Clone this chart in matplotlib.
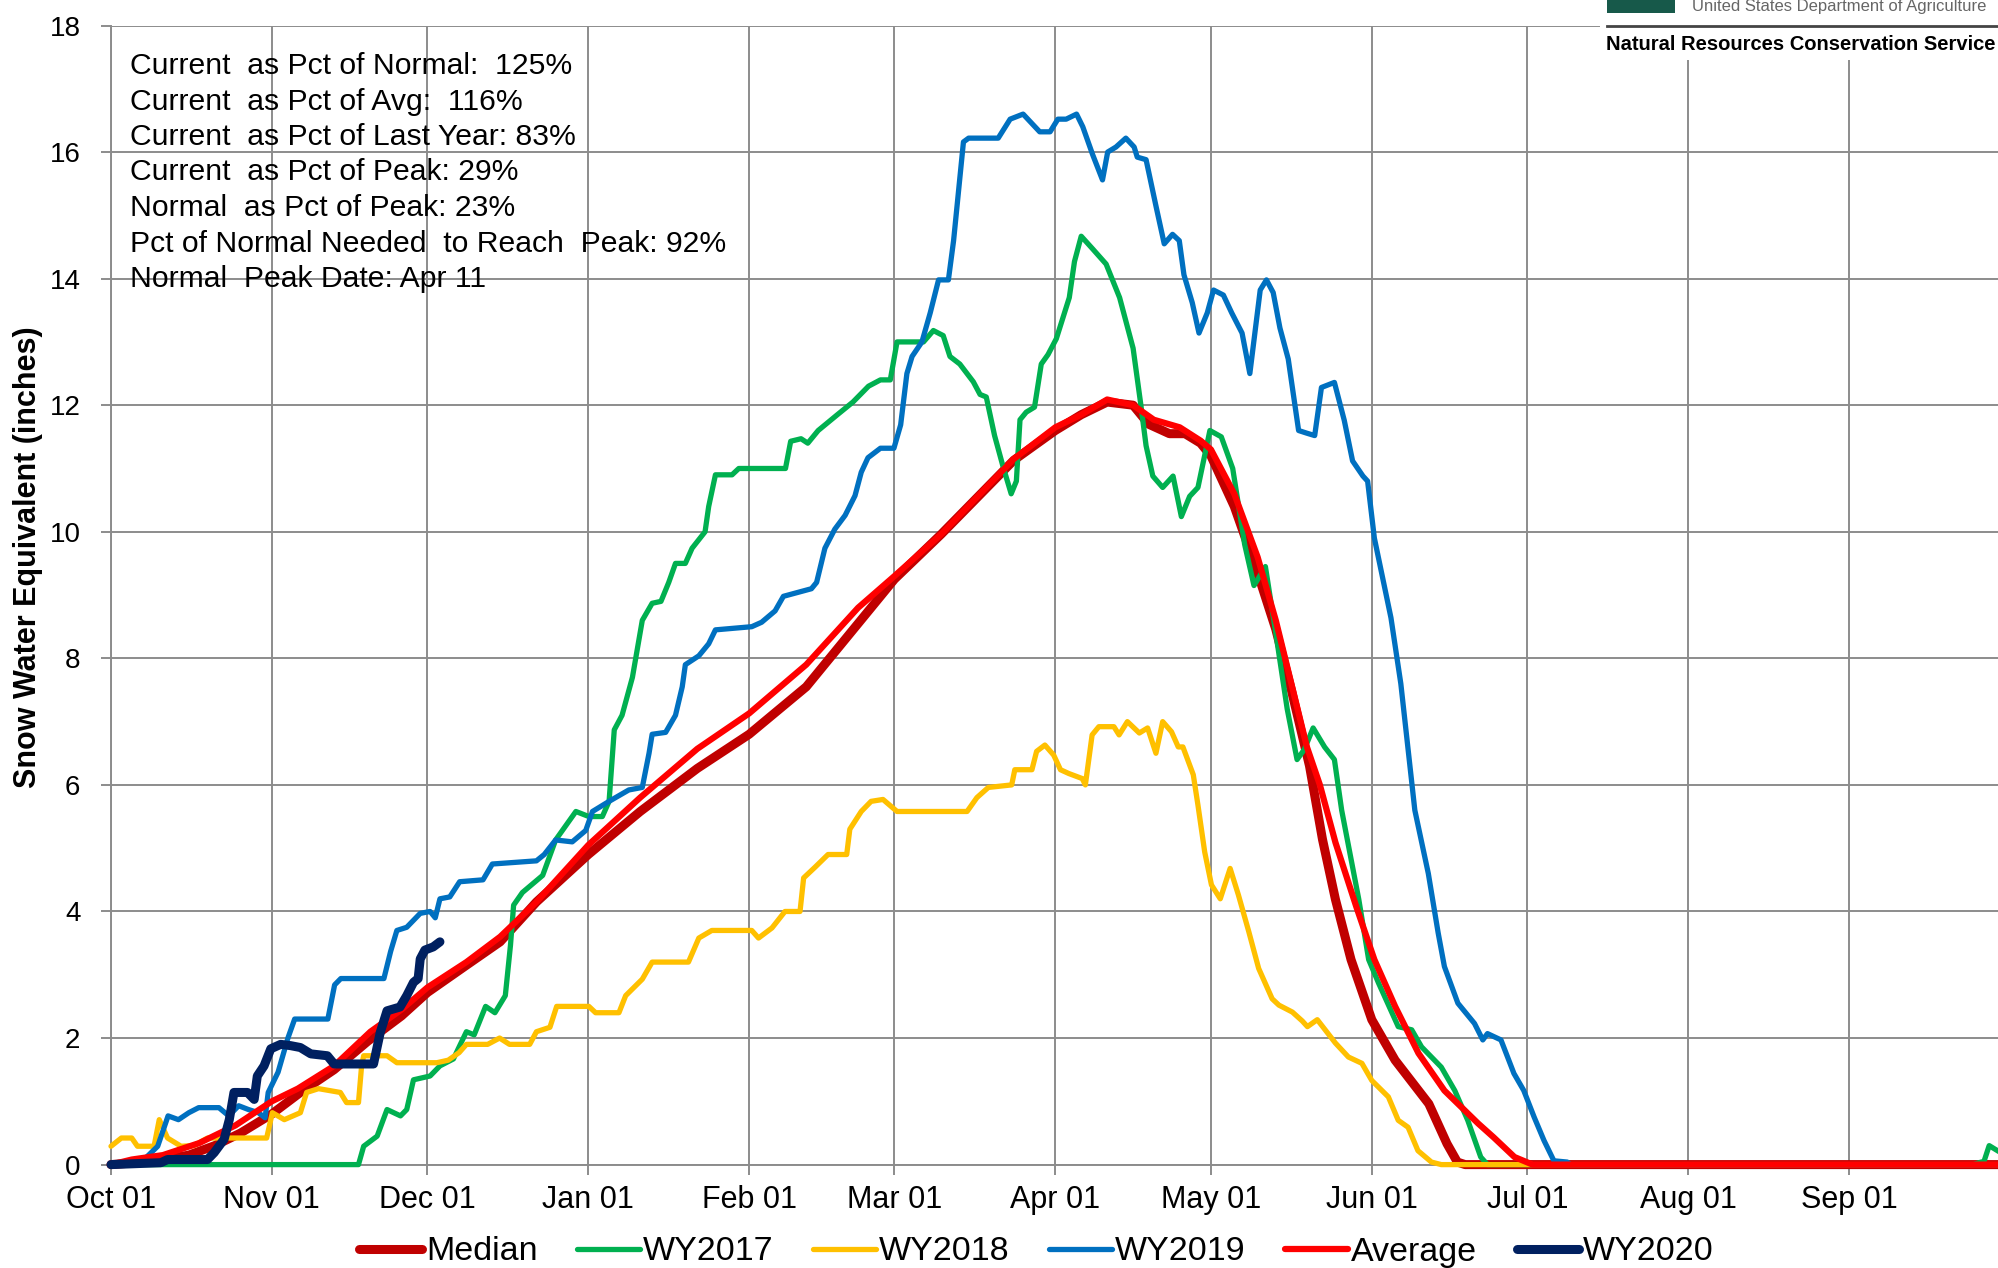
import numpy as np
import matplotlib
matplotlib.use("Agg")
import matplotlib.pyplot as plt
from matplotlib.patches import Rectangle
from matplotlib.lines import Line2D

plt.rcParams['font.family'] = ['Liberation Sans', 'DejaVu Sans']

# x values are days since Oct 01 (water year day), y is SWE in inches
month_days = [0, 31, 61, 92, 123, 151, 182, 212, 243, 273, 304, 335]
month_labels = ["Oct 01", "Nov 01", "Dec 01", "Jan 01", "Feb 01", "Mar 01",
                "Apr 01", "May 01", "Jun 01", "Jul 01", "Aug 01", "Sep 01"]

median = [(0, 0), (8, 0.05), (15, 0.15), (20, 0.3), (25, 0.5), (31, 0.8), (36.5, 1.14),
          (43, 1.5), (49.5, 1.95), (56, 2.35), (61, 2.72), (68.5, 3.15), (75, 3.52),
          (82, 4.15), (92, 4.9), (102, 5.58), (113, 6.26), (123, 6.8), (134, 7.55),
          (144, 8.55), (151, 9.25), (160, 9.96), (174, 11.13), (182, 11.6), (187, 11.85),
          (192, 12.05), (197, 12.0), (200, 11.7), (204, 11.55), (207, 11.55), (210, 11.4),
          (212, 11.2), (216.5, 10.4), (221, 9.35), (224.5, 8.46), (227.5, 7.5), (231, 6.3),
          (233.5, 5.14), (236, 4.19), (239, 3.24), (243, 2.29), (247.5, 1.65), (254, 0.96),
          (257.5, 0.33), (259.5, 0.04), (261, 0), (364, 0)]

average = [(0, 0), (4, 0.08), (10, 0.15), (17, 0.34), (24, 0.62), (31, 1.0), (36, 1.2),
           (43, 1.56), (50, 2.1), (56, 2.45), (61, 2.8), (68.5, 3.2), (75, 3.6), (82, 4.15),
           (92, 5.05), (102, 5.8), (113, 6.57), (123, 7.13), (134, 7.9), (144, 8.8),
           (151, 9.3), (160, 9.96), (174, 11.15), (182, 11.65), (187, 11.85), (192, 12.09),
           (197, 12.0), (201, 11.77), (206, 11.65), (210, 11.44), (212, 11.3), (216.5, 10.6),
           (221, 9.6), (224.5, 8.6), (227.5, 7.6), (230.5, 6.6), (233, 6.0), (236, 5.09),
           (240, 4.08), (243.5, 3.24), (247.5, 2.5), (252, 1.76), (257, 1.17), (263.5, 0.65),
           (266.5, 0.43), (270.5, 0.12), (274, 0), (364, 0)]

wy2017 = [(0, 0), (47.7, 0), (48.7, 0.29), (51.3, 0.45), (53.2, 0.87), (55.8, 0.77), (57, 0.87),
          (58.3, 1.34), (61.5, 1.4), (63.4, 1.56), (66, 1.67), (68.5, 2.1), (70, 2.05),
          (72.2, 2.5), (74, 2.4), (76, 2.67), (77, 3.47), (77.6, 4.1), (79.3, 4.3), (83.2, 4.57),
          (85.7, 5.13), (89.6, 5.58), (92.1, 5.5), (94.7, 5.5), (96, 5.74), (97, 6.87),
          (98.5, 7.1), (100.5, 7.7), (102.4, 8.6), (104.3, 8.87), (106, 8.9), (107.5, 9.2),
          (108.8, 9.5), (110.7, 9.5), (112, 9.74), (114.5, 10.0), (115.2, 10.4), (116.5, 10.9),
          (119.7, 10.9), (121, 11.0), (130, 11.0), (131, 11.43), (133, 11.47), (134.3, 11.4),
          (136.3, 11.6), (140, 11.85), (143, 12.05), (146, 12.3), (148.3, 12.4), (150.2, 12.4),
          (151.5, 13.0), (156.6, 13.0), (158.5, 13.18), (160.4, 13.1), (161.7, 12.77),
          (163.6, 12.65), (166.2, 12.37), (167.5, 12.17), (168.7, 12.13), (170.3, 11.52),
          (171.9, 11.04), (173.5, 10.6), (174.5, 10.8), (175.2, 11.77), (176.4, 11.89),
          (178, 11.97), (179.3, 12.65), (180.6, 12.8), (182.2, 13.05), (184.7, 13.7),
          (185.7, 14.27), (187, 14.67), (189.2, 14.47), (191.8, 14.23), (194.4, 13.7),
          (197, 12.9), (198.5, 12.0), (199.5, 11.36), (200.8, 10.88), (202.7, 10.7),
          (204.7, 10.88), (206.3, 10.24), (207.9, 10.56), (209.5, 10.7), (211.8, 11.6),
          (214, 11.5), (216.2, 11.0), (218.5, 9.8), (220.3, 9.15), (222.5, 9.45), (224.5, 8.4),
          (226.7, 7.2), (228.6, 6.4), (230, 6.56), (231.7, 6.9), (233.9, 6.6), (235.8, 6.4),
          (237.2, 5.6), (240.5, 4.19), (242.4, 3.24), (244.3, 2.87), (248.1, 2.18),
          (250.7, 2.13), (252.6, 1.86), (256.4, 1.54), (259, 1.17), (261.5, 0.7), (264, 0.12),
          (265.3, 0), (359, 0), (360, 0.03), (361, 0.05), (362, 0.3), (364, 0.2)]

wy2018 = [(0, 0.29), (2, 0.42), (4, 0.42), (5.1, 0.29), (8.3, 0.29), (9.3, 0.71), (10.9, 0.42),
          (13.5, 0.29), (16, 0.3), (18.6, 0.42), (30, 0.42), (31.1, 0.82), (33.4, 0.71),
          (36.5, 0.82), (37.7, 1.14), (40, 1.2), (44.2, 1.14), (45.4, 0.98), (47.7, 0.98),
          (48.3, 1.56), (48.7, 1.72), (53.2, 1.72), (55.1, 1.61), (62.8, 1.61), (65, 1.65),
          (67.1, 1.77), (68.5, 1.9), (72.6, 1.9), (74.9, 2.0), (76.8, 1.9), (80.7, 1.9),
          (82, 2.1), (84.6, 2.17), (85.9, 2.5), (92.1, 2.5), (93.4, 2.4), (97.9, 2.4),
          (99.2, 2.67), (102.4, 2.93), (104.3, 3.2), (111.3, 3.2), (113.3, 3.58), (115.8, 3.7),
          (123.5, 3.7), (124.8, 3.58), (127.4, 3.74), (129.9, 4.0), (132.8, 4.0), (133.5, 4.53),
          (135.7, 4.7), (138.2, 4.9), (141.8, 4.9), (142.4, 5.3), (144.6, 5.58), (146.5, 5.74),
          (148.8, 5.77), (151.5, 5.58), (165, 5.58), (166.9, 5.8), (169.1, 5.96), (173.6, 6.0),
          (174.2, 6.24), (177.5, 6.24), (178.4, 6.53), (180, 6.63), (181.7, 6.47), (183, 6.24),
          (184.6, 6.18), (187.2, 6.1), (187.8, 6.0), (189.1, 6.79), (190.4, 6.92), (193.3, 6.92),
          (194.3, 6.79), (195.9, 7.0), (198.2, 6.82), (199.8, 6.9), (201.4, 6.5), (202.7, 7.0),
          (204.4, 6.84), (205.7, 6.6), (206.6, 6.6), (208.6, 6.16), (209.5, 5.68), (210.8, 4.94),
          (212.1, 4.42), (213.8, 4.2), (215.7, 4.68), (217.3, 4.26), (219.3, 3.68), (221.2, 3.1),
          (223.8, 2.62), (225.1, 2.52), (227.7, 2.41), (229.6, 2.27), (230.6, 2.18),
          (232.5, 2.29), (236, 1.92), (238.5, 1.7), (241.1, 1.6), (243, 1.33), (246.2, 1.07),
          (248.1, 0.7), (250, 0.59), (251.9, 0.22), (254.5, 0.04), (256.4, 0), (364, 0)]

wy2019 = [(0, 0), (5, 0), (7, 0.13), (9, 0.29), (11, 0.77), (13, 0.71), (15, 0.82), (16.9, 0.9),
          (20.8, 0.9), (22.7, 0.77), (24.6, 0.93), (26.5, 0.87), (28.4, 0.82), (29.7, 0.74),
          (30.3, 1.14), (32.2, 1.46), (34.1, 2.0), (35.4, 2.3), (41.8, 2.3), (43.1, 2.84),
          (44.3, 2.94), (52.6, 2.94), (53.9, 3.37), (55.1, 3.7), (57, 3.75), (59.6, 3.97),
          (61.5, 4.0), (62.5, 3.9), (63.4, 4.2), (65.3, 4.23), (67.2, 4.47), (71.7, 4.5),
          (73.5, 4.75), (82, 4.8), (83.5, 4.9), (85.7, 5.13), (88.9, 5.1), (91.5, 5.28),
          (92.8, 5.58), (96, 5.74), (99.8, 5.92), (102.4, 5.96), (103.7, 6.5), (104.3, 6.8),
          (106.9, 6.83), (108.8, 7.1), (110.1, 7.55), (110.7, 7.9), (113.3, 8.04), (115.2, 8.23),
          (116.5, 8.45), (123.5, 8.5), (125.4, 8.57), (128, 8.75), (129.6, 8.98), (135, 9.1),
          (136, 9.2), (137.6, 9.74), (139.5, 10.04), (141.5, 10.26), (143.4, 10.57),
          (144.6, 10.94), (145.9, 11.17), (148.3, 11.32), (150.9, 11.32), (152.2, 11.69),
          (153.4, 12.5), (154.4, 12.77), (156.3, 13.0), (157.9, 13.46), (159.5, 13.98),
          (161.4, 13.98), (162.4, 14.6), (164.3, 16.16), (165.3, 16.22), (171, 16.22),
          (173.3, 16.52), (175.8, 16.6), (179, 16.32), (181, 16.32), (182.5, 16.52),
          (184.1, 16.52), (186.1, 16.6), (187.3, 16.4), (189.2, 15.96), (191.1, 15.56),
          (192.1, 16.0), (193.7, 16.08), (195.6, 16.22), (197.2, 16.08), (197.8, 15.92),
          (199.5, 15.88), (201.4, 15.15), (203, 14.55), (204.6, 14.7), (205.9, 14.6),
          (206.8, 14.06), (208.4, 13.62), (209.7, 13.14), (211.3, 13.46), (212.5, 13.82),
          (214.4, 13.74), (216, 13.46), (218, 13.14), (219.5, 12.5), (221.5, 13.82),
          (222.7, 13.98), (224, 13.78), (225.3, 13.22), (226.9, 12.73), (228.9, 11.6),
          (230.4, 11.56), (232, 11.52), (233.3, 12.28), (235.8, 12.36), (237.7, 11.76),
          (239.3, 11.12), (241.3, 10.88), (242.2, 10.8), (243.5, 9.9), (246.7, 8.64),
          (248.6, 7.6), (251.3, 5.6), (253.9, 4.6), (255.8, 3.66), (257, 3.13), (259.6, 2.55),
          (262.8, 2.23), (264.4, 1.97), (265.3, 2.07), (267.9, 1.97), (270.4, 1.44),
          (272.3, 1.17), (274.3, 0.75), (276.2, 0.38), (278.1, 0.06), (280.7, 0.04),
          (281.3, 0), (364, 0)]

wy2020 = [(0, 0), (9.6, 0.03), (10.9, 0.08), (18.6, 0.08), (19.9, 0.19), (21.8, 0.4),
          (22.8, 0.71), (23.7, 1.14), (26.3, 1.14), (27.6, 1.03), (28.2, 1.4), (29.5, 1.56),
          (30.8, 1.83), (32.7, 1.9), (34.6, 1.88), (36.5, 1.85), (38.5, 1.75), (41.7, 1.72),
          (43, 1.59), (50.6, 1.59), (51.9, 2.09), (53.2, 2.43), (55.7, 2.49), (57, 2.67),
          (58.3, 2.88), (59.2, 2.94), (59.6, 3.25), (60.5, 3.39), (62.1, 3.44), (63.4, 3.52)]

stats_lines = ["Current  as Pct of Normal:  125%",
               "Current  as Pct of Avg:  116%",
               "Current  as Pct of Last Year: 83%",
               "Current  as Pct of Peak: 29%",
               "Normal  as Pct of Peak: 23%",
               "Pct of Normal Needed  to Reach  Peak: 92%",
               "Normal  Peak Date: Apr 11"]

# series in excel drawing order: name, data, colour, width
series = [("Median", median, "#C00000", 6.5),
          ("WY2017", wy2017, "#00B050", 3.8),
          ("WY2018", wy2018, "#FFC000", 3.8),
          ("WY2019", wy2019, "#0070C0", 3.8),
          ("Average", average, "#FF0000", 4.5),
          ("WY2020", wy2020, "#002060", 6.5)]

W, H = 1998, 1268
fig = plt.figure(figsize=(W / 100, H / 100), dpi=100)
ax = fig.add_axes([111 / W, 1 - 1164.6 / H, 1 - 111 / W, (1164.6 - 25.5) / H])

grid_col = "#8c8c8c"
lines = []
for name, pts, col, lw in series:
    x, y = np.array(pts).T
    ln, = ax.plot(x, y, color=col, lw=lw, label=name, clip_on=False,
                  solid_joinstyle="round", solid_capstyle="round", zorder=3)
    lines.append(ln)

ax.set_xlim(0, 363.7)
ax.set_ylim(0, 18)
ax.set_xticks(month_days)
ax.set_xticklabels(month_labels)
ax.set_yticks(range(0, 19, 2))
ax.grid(True, color=grid_col, lw=1.4)
ax.set_axisbelow(True)
for s in ["top", "right"]:
    ax.spines[s].set_visible(False)
for s in ["left", "bottom"]:
    ax.spines[s].set_color(grid_col)
    ax.spines[s].set_linewidth(1.4)
ax.tick_params(axis="y", length=7, width=1.4, color=grid_col, labelsize=20, pad=15)
ax.tick_params(axis="x", length=7, width=1.4, color=grid_col, labelsize=22, pad=8)

fig.text(28 / W, 1 - 557 / H, "Snow Water Equivalent (inches)", rotation=90,
         ha="center", va="center", fontsize=22, fontweight="bold")

# stats box in the upper left
for i, txt in enumerate(stats_lines):
    fig.text(130 / W, 1 - (66 + 35.5 * i) / H, txt, ha="left", va="center", fontsize=21.7)

fig.legend(lines, [s[0] for s in series], loc="center",
           bbox_to_anchor=(0.5188, 1 - 1252 / H), ncol=6, frameon=False,
           fontsize=24.5, handlelength=1.85, handletextpad=0.1, columnspacing=1.15)

# NRCS logo block top right
fig.add_artist(Rectangle((1600 / W, 1 - 60 / H), 1 - 1600 / W, 60 / H,
                         transform=fig.transFigure, facecolor="white",
                         edgecolor="none", zorder=10))
fig.add_artist(Rectangle((1607 / W, 1 - 13 / H), 68 / W, 13 / H,
                         transform=fig.transFigure, facecolor="#17594a",
                         edgecolor="none", zorder=11))
fig.add_artist(Line2D([1607 / W, 1], [1 - 26 / H, 1 - 26 / H], color="#444444",
                      lw=2, transform=fig.transFigure, zorder=11))
fig.text(1692 / W, 1 - 7 / H, "United States Department of Agriculture",
         ha="left", va="center", fontsize=12, color="#666666", zorder=12)
fig.text(1606 / W, 1 - 44 / H, "Natural Resources Conservation Service",
         ha="left", va="center", fontsize=14.5, fontweight="bold", zorder=12)

fig.savefig("out.png", dpi=100)
